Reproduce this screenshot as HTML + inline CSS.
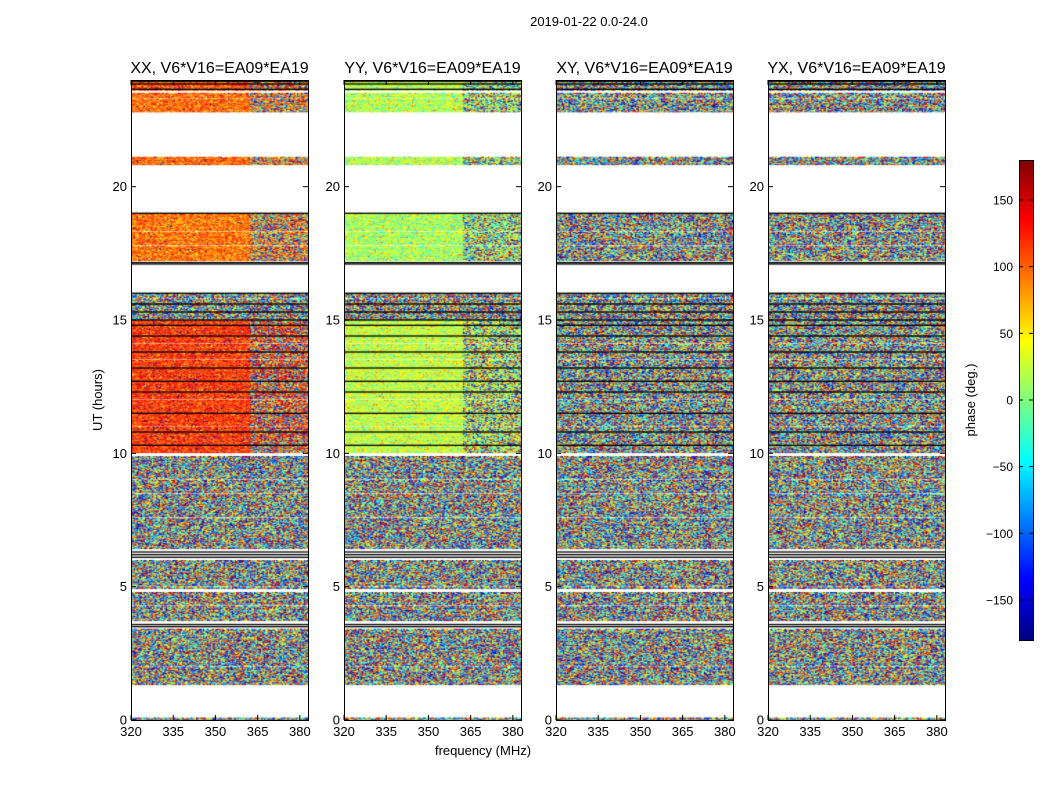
<!DOCTYPE html>
<html><head><meta charset="utf-8">
<style>
body{margin:0;background:#fff;width:1050px;height:800px;overflow:hidden;font-family:"Liberation Sans",sans-serif;}
#wrap{position:relative;width:1050px;height:800px;}
canvas{position:absolute;}
svg{position:absolute;left:0;top:0;}
</style></head>
<body>
<div id="wrap"><svg id="svg" width="1050" height="800"></svg></div>
<script>
// ---- data ----
const panelTitles = ["XX, V6*V16=EA09*EA19","YY, V6*V16=EA09*EA19","XY, V6*V16=EA09*EA19","YX, V6*V16=EA09*EA19"];
const yTicks = [0,5,10,15,20];
const xTicks = [320,335,350,365,380];
const cbTicks = [150,100,50,0,-50,-100,-150];
const bandStart = [0.0, 1.3, 3.7, 4.9, 6.4, 10.0, 15.0, 17.2, 20.8, 22.8, 23.6];
const bandEnd   = [0.08, 3.4, 4.8, 6.0, 9.9, 15.0, 16.0, 19.0, 21.1, 23.5, 24.0];
const bandMeanXX = [null,null,null,null,null,120,null,95,100,100,110];
const bandMeanYY = [null,null,null,null,null,25,null,15,20,20,20];
const bandMeanXY = [null,null,null,null,null,null,null,null,null,null,null];
const bandMeanYX = [null,null,null,null,null,null,null,null,null,null,null];
const bandSpread = [180,180,180,180,180,55,180,60,60,60,60];
const noisyAbove = 362;
const blackRows = [3.5,3.58,6.1,6.2,6.3,10.3,10.8,11.5,12.3,12.7,13.2,13.8,14.4,14.8,15.0,15.3,15.6,16.0,17.1,17.15,19.0,23.65,23.85,23.95];
const whiteRows = [8.5,9.0,7.6,5.0,4.3,2.0,11.0,12.0,13.5,14.1,15.8,17.8,18.3,23.3];

// ---- geometry ----
const panelX = [131,344,556,768], pw = 177, plotTop = 80, plotBot = 720;
const fmin = 320, fmax = 382.9, tmax = 24;
const xs = (p,f)=>panelX[p]+(f-fmin)/(fmax-fmin)*pw;
const ys = t=>plotBot-(t/tmax)*(plotBot-plotTop);
const cbX=1019, cbW=14, cbTop=160, cbBot=640;
const cbY = v=>cbBot-(v+180)/360*(cbBot-cbTop);

function jet(v){
  const r=Math.min(1,Math.max(0,1.5-Math.abs(4*v-3)));
  const g=Math.min(1,Math.max(0,1.5-Math.abs(4*v-2)));
  const b=Math.min(1,Math.max(0,1.5-Math.abs(4*v-1)));
  return [r*255|0,g*255|0,b*255|0];
}
function texture(a,b,c){
  let h=(Math.imul(a,374761393)+Math.imul(b,668265263)+Math.imul(c,2147483647))|0;
  h=Math.imul(h^(h>>>13),1274126177); h=h^(h>>>16);
  return ((h>>>0)%10000)/10000;
}
const means=[bandMeanXX,bandMeanYY,bandMeanXY,bandMeanYX];
const wrap=document.getElementById('wrap');
const svgEl=document.getElementById('svg');
const nCh=128, dt=0.03;
for(let p=0;p<4;p++){
  const cv=document.createElement('canvas');
  
  
  cv.width=pw; cv.height=plotBot-plotTop;
  cv.style.left=panelX[p]+'px'; cv.style.top=plotTop+'px';
  wrap.insertBefore(cv,svgEl);
  const ctx=cv.getContext('2d');
  ctx.fillStyle='#fff';ctx.fillRect(0,0,pw,plotBot-plotTop);
  for(let ti=0;ti*dt<tmax;ti++){
    const t=ti*dt;
    let bi=-1;
    for(let k=0;k<bandStart.length;k++) if(t>=bandStart[k]&&t<bandEnd[k]) bi=k;
    if(bi<0) continue;
    if(whiteRows.some(w=>Math.abs(w-t)<dt/2)) continue;
    const y0=ys(t+dt)-plotTop, y1=ys(t)-plotTop;
    for(let c=0;c<nCh;c++){
      const f=fmin+c*(fmax-fmin)/nCh;
      const m=means[p][bi];
      let v;
      if(m===null||(f>noisyAbove&&texture(p,ti,c+999)<0.6)) v=-180+360*texture(p,ti,c);
      else v=m+bandSpread[bi]*(texture(p,ti,c)-0.5)*2*(texture(p,ti,c+77)<0.8?0.6:1.6);
      v=((v+180)%360+360)%360-180;
      const col=jet((v+180)/360);
      ctx.fillStyle='rgb('+col[0]+','+col[1]+','+col[2]+')';
      const x0=xs(p,f)-panelX[p], x1=xs(p,f+(fmax-fmin)/nCh)-panelX[p];
      ctx.fillRect(x0,y0,x1-x0+0.3,y1-y0+0.3);
    }
  }
  ctx.fillStyle='#000';
  blackRows.forEach(b=>{ctx.fillRect(0,ys(b)-plotTop-0.65,pw,1.3);});
}
const cb=document.createElement('canvas');


cb.width=cbW;cb.height=cbBot-cbTop;cb.style.left=cbX+'px';cb.style.top=cbTop+'px';
wrap.insertBefore(cb,svgEl);
const cctx=cb.getContext('2d');
for(let i=0;i<cbBot-cbTop;i++){const c=jet(1-i/(cbBot-cbTop));cctx.fillStyle='rgb('+c[0]+','+c[1]+','+c[2]+')';cctx.fillRect(0,i,cbW,1);}

// ---- svg axes ----
function el(tag,attrs,text){const e=document.createElementNS('http://www.w3.org/2000/svg',tag);for(const k in attrs)e.setAttribute(k,attrs[k]);if(text!==undefined)e.textContent=text;svgEl.appendChild(e);return e;}
let e;
e=el('text',{x:589,y:26,'text-anchor':'middle','font-size':13,fill:'#000'},'2019-01-22 0.0-24.0');


for(let p=0;p<4;p++){
  const x0=panelX[p];
  e=el('rect',{x:x0+0.5,y:plotTop+0.5,width:pw,height:plotBot-plotTop,fill:'none',stroke:'#000','stroke-width':1});
  
  
  e=el('text',{x:x0+pw/2,y:73,'text-anchor':'middle','font-size':16,fill:'#000'},panelTitles[p]);
  
  
  yTicks.forEach(t=>{
    const y=ys(t);
    el('line',{x1:x0,x2:x0+5,y1:y,y2:y,stroke:'#000'});
    el('line',{x1:x0+pw-5,x2:x0+pw,y1:y,y2:y,stroke:'#000'});
    e=el('text',{x:x0-4,y:y+4.5,'text-anchor':'end','font-size':13,fill:'#000'},String(t));
    
    
  });
  xTicks.forEach(f=>{
    const x=xs(p,f);
    el('line',{x1:x,x2:x,y1:plotBot,y2:plotBot-5,stroke:'#000'});
    el('line',{x1:x,x2:x,y1:plotTop,y2:plotTop+5,stroke:'#000'});
    e=el('text',{x:x,y:plotBot+16,'text-anchor':'middle','font-size':13,fill:'#000'},String(f));
    
    
  });
}
e=el('text',{x:483,y:755,'text-anchor':'middle','font-size':13,fill:'#000'},'frequency (MHz)');


e=el('text',{x:0,y:0,'text-anchor':'middle','font-size':13,fill:'#000',transform:'translate(102,400) rotate(-90)'},'UT (hours)');


e=el('rect',{x:cbX+0.5,y:cbTop+0.5,width:cbW,height:cbBot-cbTop,fill:'none',stroke:'#000'});


cbTicks.forEach(v=>{
  const y=cbY(v);
  el('line',{x1:cbX,x2:cbX+4,y1:y,y2:y,stroke:'#000'});
  el('line',{x1:cbX+cbW-4,x2:cbX+cbW,y1:y,y2:y,stroke:'#000'});
  e=el('text',{x:cbX-6,y:y+4.5,'text-anchor':'end','font-size':12,fill:'#000'},String(v).replace('-','\u2212'));
  
  
});
e=el('text',{x:0,y:0,'text-anchor':'middle','font-size':13,fill:'#000',transform:'translate(975,400) rotate(-90)'},'phase (deg.)');


</script>
</body></html>
